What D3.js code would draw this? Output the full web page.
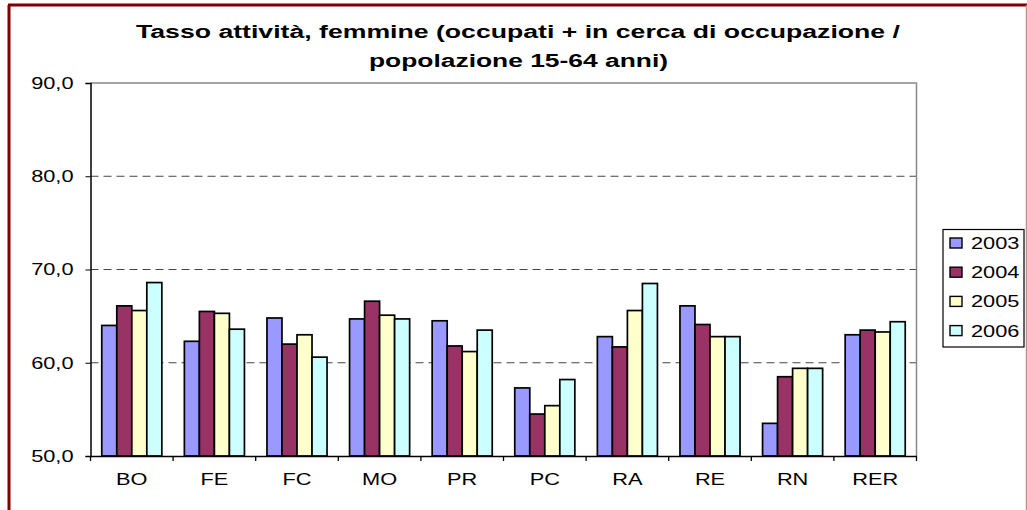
<!DOCTYPE html>
<html>
<head>
<meta charset="utf-8">
<script src="https://cdn.jsdelivr.net/npm/d3@7"></script>
<style>
  body { margin: 0; background: #fff; }
  svg { display: block; font-family: Arial, "Liberation Sans", sans-serif; }
</style>
</head>
<body>
<svg id="chart" width="1027" height="510"></svg>
<script>
// data
var categories = ["BO", "FE", "FC", "MO", "PR", "PC", "RA", "RE", "RN", "RER"];
var years = ["2003", "2004", "2005", "2006"];
var colors = ["#9999ff", "#993366", "#ffffcc", "#ccffff"];
var v2003 = [64.0, 62.3, 64.8, 64.7, 64.5, 57.3, 62.8, 66.1, 53.5, 63.0];
var v2004 = [66.1, 65.5, 62.0, 66.6, 61.8, 54.5, 61.7, 64.1, 58.5, 63.5];
var v2005 = [65.6, 65.3, 63.0, 65.1, 61.2, 55.4, 65.6, 62.8, 59.4, 63.3];
var v2006 = [68.6, 63.6, 60.6, 64.7, 63.5, 58.2, 68.5, 62.8, 59.4, 64.4];
var yTicks = [50, 60, 70, 80, 90];
var series = [v2003, v2004, v2005, v2006];

var svg = d3.select("svg#chart");
var fmt = function(d) { return d3.format(".1f")(d).replace(".", ","); };

// excel text is drawn a bit wider than the font, so stretch it
function stretch(sel, k) {
  sel.each(function() {
    var w = this.getComputedTextLength();
    d3.select(this).attr("textLength", w * k).attr("lengthAdjust", "spacingAndGlyphs");
  });
}

// outer frame
svg.append("line").attr("x1", 9).attr("y1", 5).attr("x2", 9).attr("y2", 510)
   .attr("stroke", "#800000").attr("stroke-width", 3);
svg.append("line").attr("x1", 8).attr("y1", 5).attr("x2", 1027).attr("y2", 5)
   .attr("stroke", "#800000").attr("stroke-width", 3);
svg.append("line").attr("x1", 1026.5).attr("y1", 5).attr("x2", 1026.5).attr("y2", 510)
   .attr("stroke", "#c98a8a").attr("stroke-width", 1.5);

var pLeft = 90.5, pRight = 916.5, pTop = 83, pBottom = 456;

var x = d3.scaleBand().domain(categories).range([pLeft, pRight]);
var x1 = d3.scaleBand().domain(years).range([0, x.bandwidth()])
           .paddingInner(0).paddingOuter(0.75);
var y = d3.scaleLinear().domain([50, 90]).range([pBottom, pTop]);

// gridlines
svg.append("g").selectAll("line")
   .data(yTicks.filter(function(d) { return d > 50 && d < 90; }))
   .enter().append("line")
   .attr("x1", pLeft).attr("x2", pRight)
   .attr("y1", function(d) { return y(d); })
   .attr("y2", function(d) { return y(d); })
   .attr("stroke", "#444").attr("stroke-dasharray", "8,5");

// plot area border (top + right)
svg.append("path")
   .attr("d", "M" + pLeft + "," + pTop + "H" + pRight + "V" + pBottom)
   .attr("fill", "none").attr("stroke", "#888").attr("stroke-width", 1.5);

// bars
var groups = svg.append("g").selectAll("g")
   .data(categories)
   .enter().append("g")
   .attr("transform", function(d) { return "translate(" + x(d) + ",0)"; });

groups.selectAll("rect")
   .data(function(d, i) { return years.map(function(yr, j) { return {yr: yr, j: j, v: series[j][i]}; }); })
   .enter().append("rect")
   .attr("x", function(d) { return x1(d.yr); })
   .attr("y", function(d) { return y(d.v); })
   .attr("width", x1.bandwidth())
   .attr("height", function(d) { return y(50) - y(d.v); })
   .attr("fill", function(d) { return colors[d.j]; })
   .attr("stroke", "#000").attr("stroke-width", 1.7);

// y axis
var yAxis = svg.append("g")
   .attr("transform", "translate(" + pLeft + ",0)")
   .call(d3.axisLeft(y).tickValues(yTicks).tickFormat(fmt).tickSize(5).tickPadding(12));
yAxis.select(".domain").attr("stroke", "#000").attr("stroke-width", 1.5);
yAxis.selectAll("text").attr("font-size", 17).attr("fill", "#000")
   .attr("font-family", "Arial, 'Liberation Sans', sans-serif")
   .call(stretch, 1.28);

// x axis
var xAxis = svg.append("g")
   .attr("transform", "translate(0," + pBottom + ")")
   .call(d3.axisBottom(x).tickSize(0).tickPadding(17));
xAxis.select(".domain").attr("stroke", "#000").attr("stroke-width", 1.5);
xAxis.selectAll("text").attr("font-size", 17).attr("fill", "#000")
   .attr("font-family", "Arial, 'Liberation Sans', sans-serif")
   .call(stretch, 1.28);
// category separator ticks
svg.append("g").selectAll("line")
   .data(categories.concat(["end"]))
   .enter().append("line")
   .attr("x1", function(d, i) { return pLeft + i * x.bandwidth(); })
   .attr("x2", function(d, i) { return pLeft + i * x.bandwidth(); })
   .attr("y1", pBottom).attr("y2", pBottom + 5)
   .attr("stroke", "#000").attr("stroke-width", 1.3);

// title
svg.append("text").attr("x", 518).attr("y", 38)
   .attr("text-anchor", "middle").attr("font-weight", "bold").attr("font-size", 18)
   .attr("textLength", 764).attr("lengthAdjust", "spacingAndGlyphs")
   .text("Tasso attività, femmine (occupati + in cerca di occupazione /");
svg.append("text").attr("x", 518.5).attr("y", 66.5)
   .attr("text-anchor", "middle").attr("font-weight", "bold").attr("font-size", 18)
   .attr("textLength", 299).attr("lengthAdjust", "spacingAndGlyphs")
   .text("popolazione 15-64 anni)");

// legend
var legend = svg.append("g");
legend.append("rect").attr("x", 943).attr("y", 229.5).attr("width", 81).attr("height", 117.5)
   .attr("fill", "#fff").attr("stroke", "#000").attr("stroke-width", 1.2);
var items = legend.selectAll("g.item").data(years).enter().append("g")
   .attr("transform", function(d, i) { return "translate(950," + (243 + i * 29.2) + ")"; });
items.append("rect").attr("x", 0).attr("y", -5).attr("width", 12).attr("height", 10)
   .attr("fill", function(d, i) { return colors[i]; })
   .attr("stroke", "#000").attr("stroke-width", 1.4);
items.append("text").attr("x", 21).attr("y", 6).attr("font-size", 17)
   .text(function(d) { return d; })
   .call(stretch, 1.28);
</script>
</body>
</html>
